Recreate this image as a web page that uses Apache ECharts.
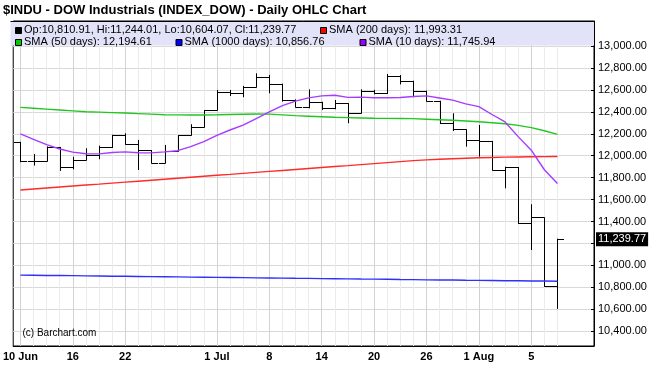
<!DOCTYPE html>
<html><head><meta charset="utf-8">
<script src="https://cdn.jsdelivr.net/npm/echarts@6/dist/echarts.min.js"></script>
<style>html,body{margin:0;padding:0;background:#fff}#c{width:658px;height:366px}</style>
</head><body><div id="c"></div>
<script>
const dates = ['2011-06-10','2011-06-13','2011-06-14','2011-06-15','2011-06-16','2011-06-17','2011-06-20','2011-06-21','2011-06-22','2011-06-23','2011-06-24','2011-06-27','2011-06-28','2011-06-29','2011-06-30','2011-07-01','2011-07-05','2011-07-06','2011-07-07','2011-07-08','2011-07-11','2011-07-12','2011-07-13','2011-07-14','2011-07-15','2011-07-18','2011-07-19','2011-07-20','2011-07-21','2011-07-22','2011-07-25','2011-07-26','2011-07-27','2011-07-28','2011-07-29','2011-08-01','2011-08-02','2011-08-03','2011-08-04','2011-08-05','2011-08-08','2011-08-09'];
const open  = [12124.36,11951.91,11952.97,12076.11,11897.27,11961.52,12004.36,12080.38,12190.01,12109.67,12050.00,11934.58,12043.56,12188.69,12261.42,12414.34,12582.77,12569.87,12626.02,12719.49,12657.20,12505.76,12446.88,12491.61,12437.12,12479.73,12385.16,12587.42,12571.91,12724.41,12681.16,12592.80,12501.30,12302.55,12240.11,12143.24,12132.49,11866.62,11896.44,11383.68,11438.00,10810.91];
const high  = [12127,12015,12085,12080,11990,12068,12092,12192,12204,12144,12051,12098,12189,12287,12416,12599,12599,12636,12751,12736,12657,12514,12605,12492,12508,12480,12605,12600,12745,12735,12684,12593,12501,12387,12241,12280,12135,11900,11897,11558,11438,11244.01];
const low   = [11941,11910,11950,11862,11876,11961,11968,12070,12100,11870,11930,11930,12043,12183,12261,12414,12544,12533,12626,12569,12493,12441,12432,12417,12423,12296,12385,12560,12563,12650,12533,12493,12289,12225,12083,11991,11864,11703,11378,11141,10805,10604.07];
const close = [11951.91,11952.97,12076.11,11897.27,11961.52,12004.36,12080.38,12190.01,12109.67,12050.00,11934.58,12043.56,12188.69,12261.42,12414.34,12582.77,12569.87,12626.02,12719.49,12657.20,12505.76,12446.88,12491.61,12437.12,12479.73,12385.16,12587.42,12571.91,12724.41,12681.16,12592.80,12501.30,12302.55,12240.11,12143.24,12132.49,11866.62,11896.44,11383.68,11444.61,10809.85,11239.77];
const sma200  = [11688,11697,11706,11715,11724,11733,11741,11750,11759,11768,11777,11786,11795,11804,11813,11822,11830,11839,11848,11857,11866,11875,11884,11893,11902,11910,11919,11928,11937,11946,11955,11962,11968,11973,11977,11981,11984,11987,11989,11991,11992,11993.31];
const sma50   = [12441,12433,12425,12417,12409,12401,12397,12393,12389,12384,12379,12374,12372,12371,12371,12373,12376,12378,12380,12379,12372,12365,12360,12355,12350,12347,12344,12341,12340,12339,12338,12333,12328,12323,12316,12309,12301,12292,12277,12256,12228,12194.61];
const sma1000 = [10912,10911,10909,10908,10907,10905,10904,10902,10901,10900,10898,10897,10896,10894,10893,10891,10890,10889,10887,10886,10885,10883,10882,10880,10879,10878,10876,10875,10874,10872,10871,10869,10868,10867,10865,10864,10863,10861,10860,10859,10858,10856.76];
const sma10   = [12198.73,12149.87,12100.50,12061.21,12032.51,12017.82,12016.86,12028.78,12034.86,12027.42,12025.69,12034.75,12046.00,12082.42,12127.70,12185.54,12234.49,12278.09,12339.07,12399.79,12456.91,12497.24,12527.54,12545.11,12551.65,12531.88,12533.64,12528.23,12528.72,12531.12,12539.82,12545.26,12526.36,12506.66,12473.01,12447.74,12375.66,12308.11,12174.04,12050.38,11872.09,11745.94];
const xLabelDates = ['2011-06-10','2011-06-16','2011-06-22','2011-07-01','2011-07-08','2011-07-14','2011-07-20','2011-07-26','2011-08-01','2011-08-05'];
const xLabelText  = ['10 Jun','16','22','1 Jul','8','14','20','26','1 Aug','5'];
const yTicks = [10400,10600,10800,11000,11200,11400,11600,11800,12000,12200,12400,12600,12800,13000];
const yTicksLabels = [10400,10600,10800,11000,11400,11600,11800,12000,12200,12400,12600,12800,13000];

const fmt = v => v.toLocaleString('en-US',{minimumFractionDigits:2,maximumFractionDigits:2});
const labelIdx = xLabelDates.map(d => dates.indexOf(d));
const allIdx = dates.map((d,i)=>i).filter(i => labelIdx.indexOf(i) < 0);
const last = dates.length - 1;
const FONT = '"Liberation Sans", Arial, sans-serif';
const YMIN = 10266, YMAX = 13227.8, XMIN = -0.55, XMAX = 43.79;

const ohlcData = dates.map((d,i)=>[i, open[i], high[i], low[i], close[i]]);
const toXY = arr => arr.map((v,i)=>[i,v]);

const chart = echarts.init(document.getElementById('c'));
const lineSeries = (name, data, color) => ({
  name, type:'line', data: toXY(data), showSymbol:false, symbol:'none', smooth:false,
  lineStyle:{color, width:1.4}, silent:true, z:3, animation:false
});

const legendItems = [
  {x:15, y:29.5, color:'#000000', text:`Op:${fmt(open[last])}, Hi:${fmt(high[last])}, Lo:${fmt(low[last])}, Cl:${fmt(close[last])}`},
  {x:320, y:29.5, color:'#ff0000', text:`SMA (200 days): ${fmt(sma200[last])}`},
  {x:15, y:42, color:'#00cc00', text:`SMA (50 days): ${fmt(sma50[last])}`},
  {x:175.5, y:42, color:'#0000ff', text:`SMA (1000 days): ${fmt(sma1000[last])}`},
  {x:359.5, y:42, color:'#9900ff', text:`SMA (10 days): ${fmt(sma10[last])}`}
];
const graphics = [
  {type:'rect', z:50, shape:{x:10.5, y:21.5, width:583.5, height:24}, style:{fill:'#e2e2f8', lineWidth:0}},
  {type:'line', z:51, shape:{x1:10.5,y1:21.5,x2:594,y2:21.5}, style:{stroke:'#000', lineWidth:1}},
  {type:'text', z:51, x:3, y:10.5, style:{text:'$INDU - DOW Industrials (INDEX_DOW) - Daily OHLC Chart', font:'bold 13px '+FONT, fill:'#000', verticalAlign:'middle'}},
  {type:'text', z:51, x:22.5, y:333, style:{text:'(c) Barchart.com', font:'10px '+FONT, fill:'#000', verticalAlign:'middle'}}
];
legendItems.forEach(it => {
  graphics.push({type:'rect', z:52, shape:{x:it.x+0.5, y:Math.round(it.y-3)+0.5, width:6, height:6}, style:{fill:it.color, stroke:'#000', lineWidth:1}});
  graphics.push({type:'text', z:52, x:it.x+9, y:it.y, style:{text:it.text, font:'11px '+FONT, fill:'#000', verticalAlign:'middle'}});
});

chart.setOption({
  animation:false,
  backgroundColor:'#ffffff',
  grid:{show:true, left:10, top:21, right:64, bottom:20, borderColor:'#000', borderWidth:1, backgroundColor:'rgba(0,0,0,0)'},
  xAxis:[
    {type:'value', min:XMIN, max:XMAX, position:'bottom',
     axisLine:{show:true, onZero:false, lineStyle:{color:'#000', width:1}},
     axisTick:{show:true, length:0, customValues:labelIdx, lineStyle:{color:'rgba(0,0,0,0)'}},
     axisLabel:{customValues:labelIdx, formatter:v => xLabelText[labelIdx.indexOf(Math.round(v))] || '', fontWeight:'bold', fontSize:11, fontFamily:FONT, color:'#000', margin:5},
     splitLine:{show:true, lineStyle:{color:'#d2d2d2', width:1}}},
    {type:'value', min:XMIN, max:XMAX, position:'top',
     axisLine:{show:false},
     axisTick:{show:true, length:0, customValues:allIdx, lineStyle:{color:'rgba(0,0,0,0)'}},
     axisLabel:{show:false, customValues:allIdx},
     splitLine:{show:true, lineStyle:{color:'#ebebeb', width:1}}}
  ],
  yAxis:[
    {type:'value', position:'right', min:YMIN, max:YMAX,
     axisLine:{show:true, onZero:false, lineStyle:{color:'#000', width:1}},
     axisTick:{show:true, inside:true, length:3, customValues:yTicks, lineStyle:{color:'#000'}},
     axisLabel:{customValues:yTicksLabels, formatter:v => fmt(v), fontSize:11, fontFamily:FONT, color:'#000', margin:4},
     splitLine:{show:true, lineStyle:{color:'#d9d9d9', width:1}}},
    {type:'value', position:'right', min:YMIN, max:YMAX,
     axisLine:{show:false}, axisTick:{show:false, customValues:[close[last]]}, splitLine:{show:false},
     axisLabel:{customValues:[close[last]], formatter:v => fmt(v), fontSize:11, fontFamily:FONT, color:'#fff', backgroundColor:'#000', padding:[2,2,1,2], margin:2}}
  ],
  graphic: graphics,
  series:[
    {type:'custom', name:'OHLC', data:ohlcData, encode:{x:0, y:[1,2,3,4]}, z:2, silent:true,
     renderItem:(params, api) => {
       const i = api.value(0);
       const o = api.coord([i, api.value(1)]), h = api.coord([i, api.value(2)]);
       const l = api.coord([i, api.value(3)]), c = api.coord([i, api.value(4)]);
       const w = api.size([1,0])[0] / 2;
       const x = Math.round(o[0]) + 0.5;
       const yo = Math.round(o[1]) + 0.5, yc = Math.round(c[1]) + 0.5;
       const yt = Math.min(h[1], yo, yc), yb = Math.max(l[1], yo, yc);
       const st = {stroke:'#000', lineWidth:1};
       return {type:'group', children:[
         {type:'line', shape:{x1:x, y1:yt, x2:x, y2:yb}, style:st},
         {type:'line', shape:{x1:x - w, y1:yo, x2:x, y2:yo}, style:st},
         {type:'line', shape:{x1:x, y1:yc, x2:x + w, y2:yc}, style:st}
       ]};
     }},
    lineSeries('SMA (200 days)', sma200, '#ff2a2a'),
    lineSeries('SMA (50 days)', sma50, '#22c622'),
    lineSeries('SMA (1000 days)', sma1000, '#2f2fff'),
    lineSeries('SMA (10 days)', sma10, '#a63cff')
  ]
});
</script></body></html>
